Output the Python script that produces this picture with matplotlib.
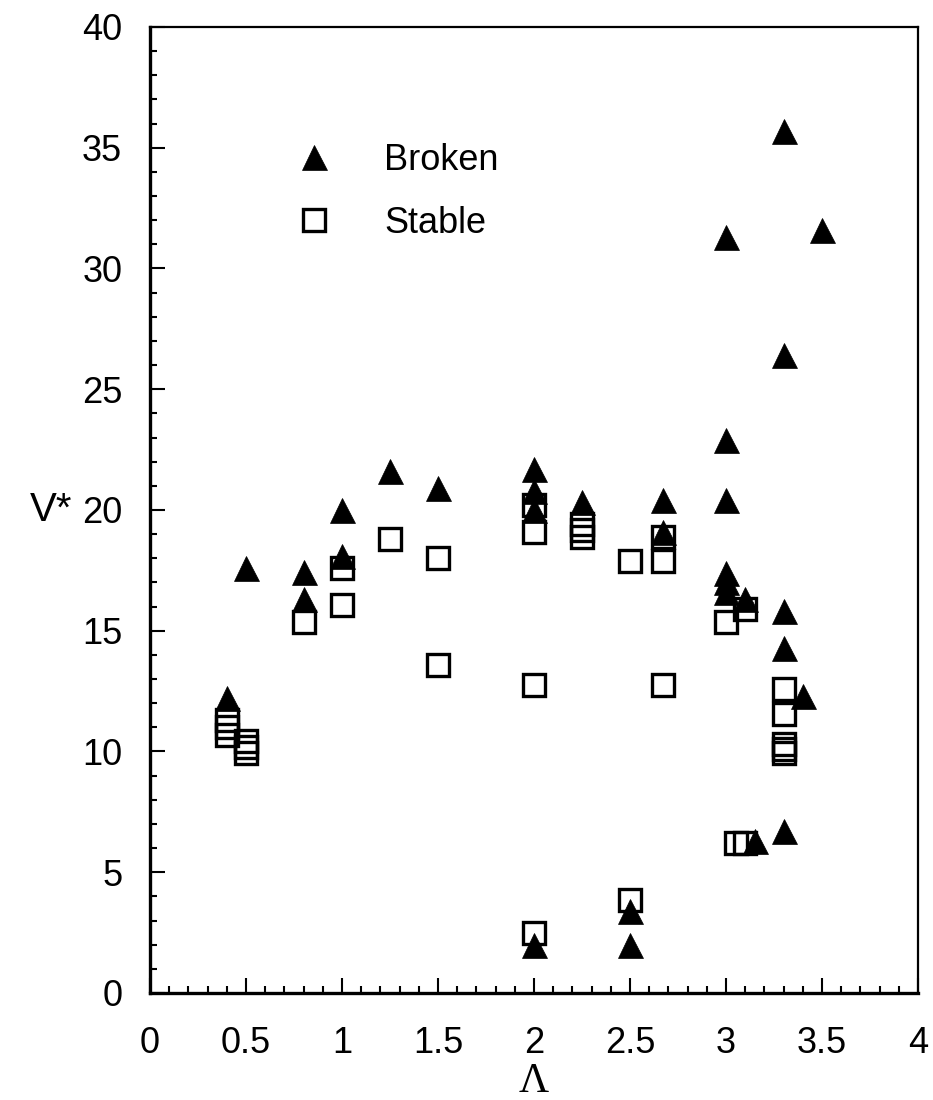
import matplotlib
matplotlib.use("Agg")
import matplotlib.pyplot as plt
from matplotlib.ticker import MultipleLocator

# Broken cases (filled triangles)
broken_lam = [0.4, 0.5, 0.8, 0.8, 1.0, 1.0, 1.25, 1.5,
              2.0, 2.0, 2.0, 2.0, 2.25, 2.5, 2.5, 2.67, 2.67,
              3.0, 3.0, 3.0, 3.0, 3.0, 3.0, 3.1, 3.15,
              3.3, 3.3, 3.3, 3.3, 3.3, 3.4, 3.5]
broken_v = [12.2, 17.6, 17.45, 16.3, 20.0, 18.1, 21.6, 20.9,
            21.7, 20.8, 20.0, 2.0, 20.35, 3.4, 2.0, 20.4, 19.1,
            31.3, 22.9, 20.4, 17.4, 17.0, 16.6, 16.3, 6.3,
            35.7, 26.4, 15.8, 14.3, 6.7, 12.3, 31.6]

# Stable cases (open squares)
stable_lam = [0.4, 0.4, 0.4, 0.5, 0.5, 0.5, 0.8, 1.0, 1.0, 1.25,
              1.5, 1.5, 2.0, 2.0, 2.0, 2.0, 2.25, 2.25, 2.25,
              2.5, 2.5, 2.67, 2.67, 2.67, 3.0, 3.05, 3.1, 3.1,
              3.3, 3.3, 3.3, 3.3, 3.3]
stable_v = [11.3, 11.0, 10.7, 10.45, 10.2, 9.95, 15.35, 17.6, 16.05, 18.8,
            18.0, 13.6, 20.2, 19.1, 12.75, 2.5, 19.4, 19.15, 18.9,
            17.9, 3.85, 18.9, 17.9, 12.75, 15.35, 6.2, 15.9, 6.2,
            12.6, 11.55, 10.3, 10.1, 9.95]

x_ticks = [0, 0.5, 1, 1.5, 2, 2.5, 3, 3.5, 4]
x_labels = ["0", "0.5", "1", "1.5", "2", "2.5", "3", "3.5", "4"]
y_ticks = [0, 5, 10, 15, 20, 25, 30, 35, 40]

plt.rcParams['font.family'] = ['Liberation Sans', 'DejaVu Sans']

fig = plt.figure(figsize=(9.33, 11), dpi=100)
ax = fig.add_axes([0.1608, 0.0973, 0.8232, 0.8782])

ax.plot(stable_lam, stable_v, linestyle='none', marker='s', markersize=15.5,
        markerfacecolor='none', markeredgecolor='black', markeredgewidth=2.4,
        label='Stable')
ax.plot(broken_lam, broken_v, linestyle='none', marker='^', markersize=18,
        markerfacecolor='black', markeredgecolor='black', markeredgewidth=0.5,
        label='Broken')

ax.set_xlim(0, 4)
ax.set_ylim(0, 40)
ax.set_xticks(x_ticks)
ax.set_xticklabels(x_labels)
ax.set_yticks(y_ticks)
ax.xaxis.set_minor_locator(MultipleLocator(0.1))
ax.yaxis.set_minor_locator(MultipleLocator(1))
ax.tick_params(which='both', direction='in', top=False, right=False,
               labelsize=26, width=1.5)
ax.tick_params(axis='x', which='both', pad=24)
ax.tick_params(axis='y', which='both', pad=20)
ax.tick_params(which='major', length=11)
ax.tick_params(which='minor', length=5)

for side in ['left', 'bottom']:
    ax.spines[side].set_linewidth(2.4)
for side in ['top', 'right']:
    ax.spines[side].set_linewidth(1.6)

ax.set_xlabel('Λ', fontsize=30, family=['Liberation Serif', 'DejaVu Serif'],
              labelpad=1)
ax.set_ylabel('V*', fontsize=29, rotation=0, labelpad=22, va='center')

handles, labels = ax.get_legend_handles_labels()
ax.legend(handles[::-1], labels[::-1], loc='upper left',
          bbox_to_anchor=(0.19, 0.880), frameon=False, fontsize=26,
          labelspacing=0.78, handletextpad=1.45, handlelength=1.0,
          borderaxespad=0, borderpad=0)

fig.savefig('out.png', dpi=100)
